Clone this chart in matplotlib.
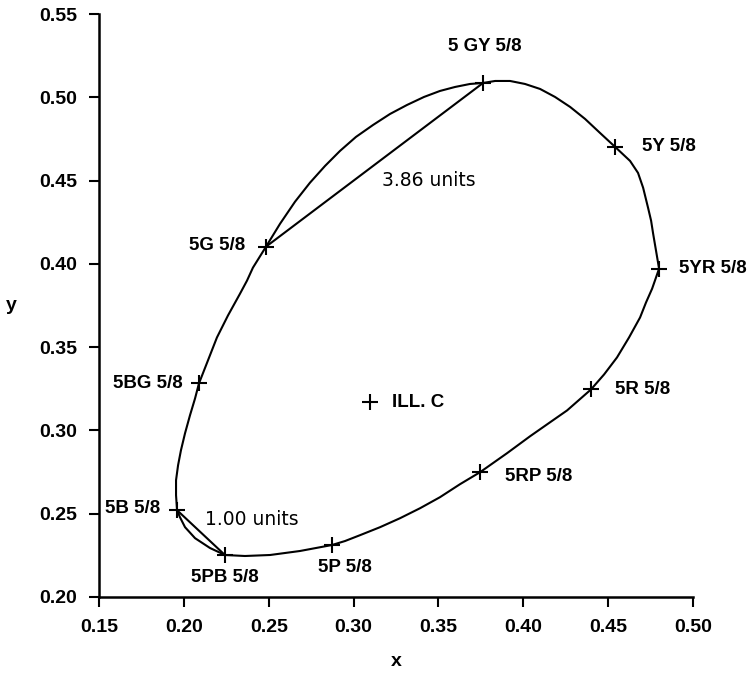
import matplotlib
matplotlib.use("Agg")
import matplotlib.pyplot as plt

# Munsell hues at value 5 / chroma 8 (crosses on the loop)
hue_names = ["5 GY 5/8", "5Y 5/8", "5YR 5/8", "5R 5/8", "5RP 5/8",
             "5P 5/8", "5PB 5/8", "5B 5/8", "5BG 5/8", "5G 5/8"]
hue_x = [0.3763, 0.4541, 0.4800, 0.4399, 0.3745, 0.2873, 0.2242, 0.1960, 0.2089, 0.2484]
hue_y = [0.5086, 0.4702, 0.3971, 0.3246, 0.2749, 0.2312, 0.2252, 0.2521, 0.3282, 0.4103]

# the constant chroma loop (starts and ends at 5GY)
loop_x = [0.3763, 0.3834, 0.3922, 0.4010, 0.4099, 0.4187, 0.4276, 0.4364, 0.4452,
          0.4541, 0.4629, 0.4676, 0.4706, 0.4735, 0.4753, 0.4765, 0.4782,
          0.4800, 0.4759, 0.4723, 0.4688, 0.4623, 0.4552, 0.4476,
          0.4399, 0.4258, 0.4158, 0.4040, 0.3904,
          0.3745, 0.3627, 0.3509, 0.3392, 0.3274, 0.3156, 0.3038, 0.2950,
          0.2873, 0.2684, 0.2508, 0.2360,
          0.2242, 0.2154, 0.2066, 0.2007, 0.1977,
          0.1960, 0.1954, 0.1954, 0.1966, 0.1983, 0.2007, 0.2036, 0.2066,
          0.2089, 0.2142, 0.2195, 0.2260, 0.2331, 0.2372, 0.2407,
          0.2484, 0.2567, 0.2655, 0.2743, 0.2832, 0.2920, 0.3014, 0.3115,
          0.3215, 0.3315, 0.3415, 0.3509, 0.3598, 0.3686, 0.3763]
loop_y = [0.5086, 0.5098, 0.5098, 0.5080, 0.5050, 0.5002, 0.4942, 0.4870, 0.4786,
          0.4702, 0.4618, 0.4546, 0.4457, 0.4337, 0.4259, 0.4181, 0.4079,
          0.3971, 0.3851, 0.3768, 0.3678, 0.3558, 0.3438, 0.3336,
          0.3246, 0.3120, 0.3049, 0.2965, 0.2863,
          0.2749, 0.2677, 0.2599, 0.2533, 0.2473, 0.2419, 0.2371, 0.2336,
          0.2312, 0.2276, 0.2252, 0.2246,
          0.2252, 0.2294, 0.2353, 0.2419, 0.2479,
          0.2521, 0.2611, 0.2701, 0.2791, 0.2881, 0.2983, 0.3090, 0.3192,
          0.3282, 0.3420, 0.3558, 0.3690, 0.3821, 0.3899, 0.3977,
          0.4103, 0.4241, 0.4373, 0.4487, 0.4588, 0.4678, 0.4762, 0.4834,
          0.4900, 0.4954, 0.5002, 0.5038, 0.5062, 0.5080, 0.5086]

ill_c = (0.3097, 0.3168)

# label offsets in points from each cross
offsets = [(1, 26), (19, 0), (14, 0), (17, 0), (18, -3),
           (9, -16), (0, -16), (-12, 1), (-12, 0), (-15, 1)]
aligns = ["center", "left", "left", "left", "left",
          "center", "center", "right", "right", "right"]

lab_font = {"family": ["Liberation Sans", "DejaVu Sans"],
            "weight": "bold", "size": 13.5}
tick_font = {"family": ["Liberation Sans", "DejaVu Sans"],
             "weight": "bold", "size": 14}
round_font = {"family": ["DejaVu Sans"], "size": 13.5}

fig = plt.figure(figsize=(7.51, 6.80), dpi=100)
ax = fig.add_axes([0.1318, 0.1221, 0.791, 0.8573])

ax.plot(loop_x, loop_y, color="black", lw=1.5, solid_joinstyle="round")
# straight chords between neighbouring hues
ax.plot([hue_x[9], hue_x[0]], [hue_y[9], hue_y[0]], color="black", lw=1.5)
ax.plot([hue_x[7], hue_x[6]], [hue_y[7], hue_y[6]], color="black", lw=1.5)

ax.plot(hue_x, hue_y, ls="none", marker="+", ms=11.5, mew=1.5, color="black")
ax.plot([ill_c[0]], [ill_c[1]], ls="none", marker="+", ms=11.5, mew=1.5, color="black")

for name, x, y, off, ha in zip(hue_names, hue_x, hue_y, offsets, aligns):
    ax.annotate(name, (x, y), xytext=off, textcoords="offset points",
                ha=ha, va="center", **lab_font)
ax.annotate("ILL. C", ill_c, xytext=(16, 0), textcoords="offset points",
            ha="left", va="center", **lab_font)

ax.text(0.3168, 0.4498, "3.86 units", ha="left", va="center", **round_font)
ax.text(0.2125, 0.2467, "1.00 units", ha="left", va="center", **round_font)

ax.set_xlim(0.15, 0.50)
ax.set_ylim(0.20, 0.55)
ax.set_xticks([0.15, 0.20, 0.25, 0.30, 0.35, 0.40, 0.45, 0.50])
ax.set_yticks([0.20, 0.25, 0.30, 0.35, 0.40, 0.45, 0.50, 0.55])
ax.set_xticklabels(["%.2f" % v for v in ax.get_xticks()], **tick_font)
ax.set_yticklabels(["%.2f" % v for v in ax.get_yticks()], **tick_font)
ax.tick_params(direction="out", length=7, width=1.5, pad=9)
ax.spines["top"].set_visible(False)
ax.spines["right"].set_visible(False)
ax.spines["left"].set_linewidth(1.8)
ax.spines["bottom"].set_linewidth(1.8)

ax.set_xlabel("x", labelpad=12, **tick_font)
ax.set_ylabel("y", rotation=0, labelpad=20, va="center", **tick_font)

plt.savefig("out.png", dpi=100)
